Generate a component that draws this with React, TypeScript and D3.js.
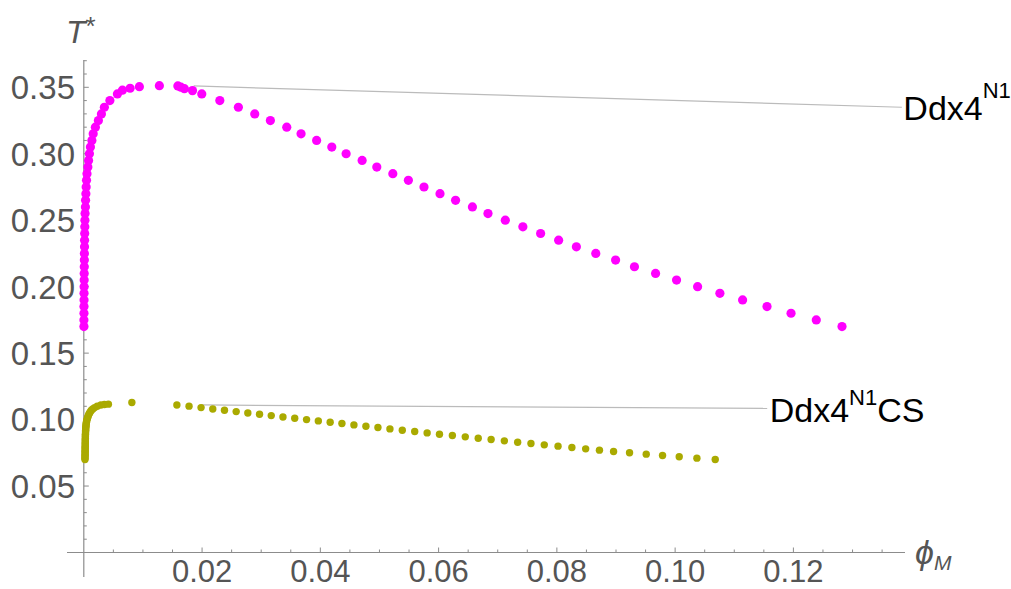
import React from "react";
import * as d3 from "d3";

// Ddx4^N1 binodal: low-concentration branch [phi_M, T*]
const ddx4Low: [number, number][] = [
  [0.00002, 0.170], [0.00002, 0.175], [0.00003, 0.180], [0.00003, 0.185],
  [0.00004, 0.190], [0.00004, 0.195], [0.00005, 0.200], [0.00006, 0.205],
  [0.00007, 0.210], [0.00008, 0.215], [0.00009, 0.220], [0.00010, 0.225],
  [0.00012, 0.230], [0.00013, 0.235], [0.00015, 0.240], [0.00017, 0.245],
  [0.00019, 0.250], [0.00021, 0.255], [0.00027, 0.260], [0.00030, 0.265],
  [0.00035, 0.270], [0.00040, 0.275], [0.00046, 0.280], [0.00054, 0.285],
  [0.00069, 0.290], [0.00081, 0.295], [0.00095, 0.300], [0.00112, 0.305],
  [0.00137, 0.310], [0.00159, 0.315], [0.00196, 0.320], [0.00247, 0.325],
  [0.00298, 0.330], [0.00348, 0.335], [0.00441, 0.340], [0.00568, 0.345],
  [0.00653, 0.3478], [0.00783, 0.3493], [0.00940, 0.3505], [0.01278, 0.3512],
];
// Ddx4^N1 high-concentration branch
const ddx4High: [number, number][] = [
  [0.01591, 0.3510], [0.01642, 0.3501], [0.01701, 0.3490], [0.01838, 0.3475],
  [0.01995, 0.345], [0.02300, 0.340], [0.02614, 0.335], [0.02891, 0.330],
  [0.03155, 0.325], [0.03432, 0.320], [0.03674, 0.315], [0.03937, 0.310],
  [0.04194, 0.305], [0.04436, 0.300], [0.04707, 0.295], [0.04955, 0.290],
  [0.05226, 0.285], [0.05489, 0.280], [0.05753, 0.275], [0.06024, 0.270],
  [0.06287, 0.265], [0.06572, 0.260], [0.06835, 0.255], [0.07128, 0.250],
  [0.07425, 0.245], [0.07725, 0.240], [0.08030, 0.235], [0.08330, 0.230],
  [0.08658, 0.225], [0.08993, 0.220], [0.09312, 0.215], [0.09669, 0.210],
  [0.10024, 0.205], [0.10380, 0.200], [0.10757, 0.195], [0.11141, 0.190],
  [0.11554, 0.185], [0.11960, 0.180], [0.12387, 0.175], [0.12822, 0.170],
];
// Ddx4^N1 CS: low branch
const csLow: [number, number][] = [
  [0.00020, 0.070], [0.00020, 0.071], [0.00021, 0.072], [0.00021, 0.073],
  [0.00022, 0.074], [0.00022, 0.075], [0.00022, 0.076], [0.00023, 0.077],
  [0.00023, 0.078], [0.00023, 0.079], [0.00024, 0.080], [0.00024, 0.081],
  [0.00025, 0.082], [0.00025, 0.083], [0.00025, 0.084], [0.00026, 0.085],
  [0.00026, 0.086], [0.00027, 0.087], [0.00027, 0.088], [0.00028, 0.089],
  [0.00029, 0.090], [0.00030, 0.091], [0.00031, 0.092], [0.00032, 0.093],
  [0.00034, 0.094], [0.00036, 0.095], [0.00038, 0.096], [0.00041, 0.097],
  [0.00044, 0.098], [0.00049, 0.099], [0.00054, 0.100], [0.00061, 0.101],
  [0.00068, 0.102], [0.00077, 0.103], [0.00086, 0.104], [0.00098, 0.105],
  [0.00112, 0.106], [0.00128, 0.107], [0.00152, 0.108], [0.00183, 0.109],
  [0.00227, 0.110], [0.00289, 0.111], [0.00348, 0.1113], [0.00416, 0.1116],
  [0.00813, 0.1128],
];
// Ddx4^N1 CS: high branch
const csHigh: [number, number][] = [
  [0.01574, 0.1110], [0.01780, 0.1101],
  [0.01983, 0.109], [0.02181, 0.108], [0.02379, 0.107], [0.02577, 0.106],
  [0.02774, 0.105], [0.02972, 0.104], [0.03170, 0.103], [0.03368, 0.102],
  [0.03567, 0.101], [0.03767, 0.100], [0.03966, 0.099], [0.04166, 0.098],
  [0.04365, 0.097], [0.04568, 0.096], [0.04771, 0.095], [0.04974, 0.094],
  [0.05177, 0.093], [0.05386, 0.092], [0.05596, 0.091], [0.05806, 0.090],
  [0.06015, 0.089], [0.06233, 0.088], [0.06451, 0.087], [0.06670, 0.086],
  [0.06888, 0.085], [0.07112, 0.084], [0.07337, 0.083], [0.07562, 0.082],
  [0.07787, 0.081], [0.08020, 0.080], [0.08254, 0.079], [0.08487, 0.078],
  [0.08720, 0.077], [0.08959, 0.076], [0.09229, 0.075], [0.09511, 0.074],
  [0.09787, 0.073], [0.10069, 0.072], [0.10368, 0.071], [0.10678, 0.070],
];

const xTickLabels = ["0.02", "0.04", "0.06", "0.08", "0.10", "0.12"];
const yTickLabels = ["0.05", "0.10", "0.15", "0.20", "0.25", "0.30", "0.35"];

// callouts: [anchor phi, anchor T, end phi, end T]
const calloutN1 = [0.01858, 0.3510, 0.13834, 0.3350];
const calloutCS = [0.02, 0.1110, 0.11557, 0.1084];

const W = 1011;
const H = 589;
const FONT = "'Liberation Sans', Arial, Helvetica, sans-serif";

export default function App() {
  const x = d3.scaleLinear().domain([0, 0.12]).range([83.8, 793.4]);
  const y = d3.scaleLinear().domain([0, 0.35]).range([552.5, 87.3]);
  const x0 = x(0);
  const y0 = y(0);

  const xMinor = d3.range(1, 28).map((i) => i * 0.005);
  const yMinor = d3.range(1, 38).map((i) => i * 0.01);

  const axisColor = "#8c8c8c";
  const labelColor = "#555555";

  const magenta = "#ff00ff";
  const olive = "#aaaa00";

  return (
    <svg
      width={W}
      height={H}
      style={{ position: "absolute", left: 0, top: 0, background: "#fff" }}
      fontFamily={FONT}
    >
      {/* axes */}
      <line x1={67} x2={905} y1={y0} y2={y0} stroke={axisColor} strokeWidth={1.2} />
      <line x1={x0} x2={x0} y1={60} y2={577} stroke={axisColor} strokeWidth={1.2} />

      {/* x ticks */}
      {xMinor.map((v, i) => {
        const major = (i + 1) % 4 === 0;
        return (
          <line
            key={"xm" + i}
            x1={x(v)}
            x2={x(v)}
            y1={y0}
            y2={y0 - (major ? 5 : 3)}
            stroke={axisColor}
            strokeWidth={1}
          />
        );
      })}
      {xTickLabels.map((t) => (
        <text
          key={"xl" + t}
          x={x(+t)}
          y={582}
          textAnchor="middle"
          fontSize={31}
          fill={labelColor}
        >
          {t}
        </text>
      ))}

      {/* y ticks */}
      {yMinor.map((v, i) => {
        const major = (i + 1) % 5 === 0;
        return (
          <line
            key={"ym" + i}
            x1={x0}
            x2={x0 + (major ? 5 : 3)}
            y1={y(v)}
            y2={y(v)}
            stroke={axisColor}
            strokeWidth={1}
          />
        );
      })}
      {yTickLabels.map((t) => (
        <text
          key={"yl" + t}
          x={75}
          y={y(+t)}
          dy="0.36em"
          textAnchor="end"
          fontSize={33}
          fill={labelColor}
        >
          {t}
        </text>
      ))}

      {/* axis labels */}
      <text x={66} y={43} fontSize={32} fontStyle="italic" fill={labelColor}>
        T
        <tspan fontSize={26} dy={-8} fontStyle="normal">*</tspan>
      </text>
      <text x={915} y={564} fontSize={34} fontStyle="italic" fill={labelColor}>
        ϕ
        <tspan fontSize={21} dy={6}>M</tspan>
      </text>

      {/* callout lines */}
      <line
        x1={x(calloutN1[0])}
        y1={y(calloutN1[1])}
        x2={x(calloutN1[2])}
        y2={y(calloutN1[3])}
        stroke="#bbbbbb"
        strokeWidth={1.2}
      />
      <line
        x1={x(calloutCS[0])}
        y1={y(calloutCS[1])}
        x2={x(calloutCS[2])}
        y2={y(calloutCS[3])}
        stroke="#bbbbbb"
        strokeWidth={1.2}
      />

      {/* points */}
      {csLow.concat(csHigh).map((d, i) => (
        <circle key={"c" + i} cx={x(d[0])} cy={y(d[1])} r={3.7} fill={olive} />
      ))}
      {ddx4Low.concat(ddx4High).map((d, i) => (
        <circle key={"m" + i} cx={x(d[0])} cy={y(d[1])} r={4.6} fill={magenta} />
      ))}

      {/* callout labels */}
      <text x={x(calloutN1[2]) + 1.5} y={120} fontSize={34} fill="#000">
        Ddx4
        <tspan fontSize={22} dy={-22}>N1</tspan>
      </text>
      <text x={x(calloutCS[2]) + 2.5} y={421.7} fontSize={34} fill="#000">
        Ddx4
        <tspan fontSize={22} dy={-17}>N1</tspan>
        <tspan fontSize={34} dy={17}>CS</tspan>
      </text>
    </svg>
  );
}
